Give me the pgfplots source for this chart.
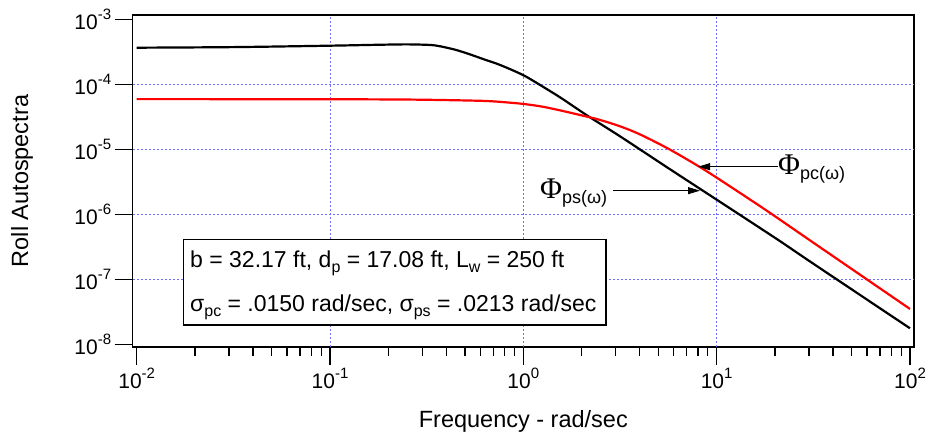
\documentclass[border=0pt]{standalone}
\usepackage{fontspec}
\setmainfont{Liberation Sans}
\newfontfamily\phifont{Liberation Serif}
\usepackage{pgfplots}
\pgfplotsset{compat=1.18}
\usetikzlibrary{arrows.meta}
\definecolor{gridblue}{RGB}{110,110,255}
\newcommand\tl[1]{10\raisebox{10pt}{\fontsize{15}{15}\selectfont #1}}
\newcommand\sub[1]{\raisebox{-5pt}{\fontsize{16}{16}\selectfont #1}}
\newcommand\bsub[1]{\raisebox{-5pt}{\fontsize{18}{18}\selectfont #1}}
\tikzset{gridl/.style={gridblue, line width=0.7pt, dash pattern=on 2pt off 2pt}}
\begin{document}
\begin{tikzpicture}
\begin{axis}[
  scale only axis, width=781.3pt, height=332pt,
  xmode=log, ymode=log,
  xmin=0.009535, xmax=104.88, ymin=9.09e-9, ymax=1.164e-3,
  axis line style={line width=1.5pt},
  tick align=outside, xtick pos=bottom, ytick pos=left,
  major tick length=18pt, minor tick length=9pt,
  every tick/.style={black, line width=1.3pt},
  yminorticks=false,
  xtick={0.01,0.1,1,10,100},
  xticklabels={\tl{-2},\tl{-1},\tl{0},\tl{1},\tl{2}},
  ytick={1e-8,1e-7,1e-6,1e-5,1e-4,1e-3},
  yticklabels={\tl{-8},\tl{-7},\tl{-6},\tl{-5},\tl{-4},\tl{-3}},
  ticklabel style={font=\fontsize{21}{21}\selectfont},
  xlabel={Frequency - rad/sec}, ylabel={Roll Autospectra},
  every axis x label/.style={at={(axis description cs:0.5,-0.241)}, anchor=base, font=\fontsize{23.5}{23.5}\selectfont},
  every axis y label/.style={at={(axis description cs:-0.1417,0.5)}, rotate=90, anchor=center, font=\fontsize{23.5}{23.5}\selectfont},
]
\draw[gridl] (axis cs:0.1,9.09e-9) -- (axis cs:0.1,1.164e-3);
\draw[gridl] (axis cs:1,9.09e-9) -- (axis cs:1,1.164e-3);
\draw[gridl] (axis cs:10,9.09e-9) -- (axis cs:10,1.164e-3);
\draw[gridl] (axis cs:0.009535,1e-7) -- (axis cs:104.88,1e-7);
\draw[gridl] (axis cs:0.009535,1e-6) -- (axis cs:104.88,1e-6);
\draw[gridl] (axis cs:0.009535,1e-5) -- (axis cs:104.88,1e-5);
\draw[gridl] (axis cs:0.009535,1e-4) -- (axis cs:104.88,1e-4);
\addplot[black, line width=2.2pt, smooth, tension=0.5] coordinates {
(0.01,3.656e-4) (0.03162,3.733e-4) (0.1,3.926e-4) (0.1778,4.055e-4) (0.2512,4.111e-4)
(0.3289,4.027e-4) (0.3707,3.846e-4) (0.4467,3.388e-4) (0.5297,2.884e-4) (0.6310,2.399e-4)
(0.7586,1.982e-4) (1,1.380e-4) (1.2589,9.226e-5) (1.5849,6.026e-5) (2.138,3.311e-5)
(3.162,1.585e-5) (5.623,5.129e-6) (10,1.679e-6) (20.46,4.169e-7) (31.62,1.738e-7) (100,1.762e-8)
};
\addplot[red, line width=2.2pt, smooth, tension=0.5] coordinates {
(0.01,5.916e-5) (0.1,5.888e-5) (0.2512,5.821e-5) (0.3981,5.715e-5) (0.6310,5.546e-5)
(0.7943,5.309e-5) (1,4.989e-5) (1.2589,4.519e-5) (1.5849,3.908e-5) (2.138,3.177e-5)
(2.512,2.812e-5) (3.162,2.259e-5) (3.981,1.714e-5) (5.623,1.021e-5) (7.943,5.636e-6)
(10,3.664e-6) (17.78,1.186e-6) (31.62,3.664e-7) (100,3.499e-8)
};
\draw[line width=1pt, -{Triangle[length=12pt,width=7pt]}] (axis cs:2.91,2.31e-6) -- (axis cs:8.20,2.31e-6);
\draw[line width=1pt, -{Triangle[length=12pt,width=7pt]}] (axis cs:20.7,5.40e-6) -- (axis cs:8.02,5.40e-6);
\end{axis}
\node[anchor=base west, inner sep=0] at (407.3pt,148.7pt) {{\phifont\fontsize{30}{30}\selectfont Φ}\bsub{ps(ω)}};
\node[anchor=base west, inner sep=0] at (645.3pt,172pt) {{\phifont\fontsize{30}{30}\selectfont Φ}\bsub{pc(ω)}};
\draw[line width=1.5pt, fill=white] (50.6pt,22pt) rectangle (473.3pt,107.7pt);
\node[anchor=base west, inner sep=0, font=\fontsize{23}{23}\selectfont] at (57.3pt,79.7pt) {b = 32.17 ft, d\sub{p} = 17.08 ft, L\sub{w} = 250 ft};
\node[anchor=base west, inner sep=0, font=\fontsize{23}{23}\selectfont] at (57.3pt,35.3pt) {σ\sub{pc} = .0150 rad/sec, σ\sub{ps} = .0213 rad/sec};
\pgfresetboundingbox
\useasboundingbox (-132.7pt,-91pt) rectangle (799.3pt,347pt);
\end{tikzpicture}
\end{document}
